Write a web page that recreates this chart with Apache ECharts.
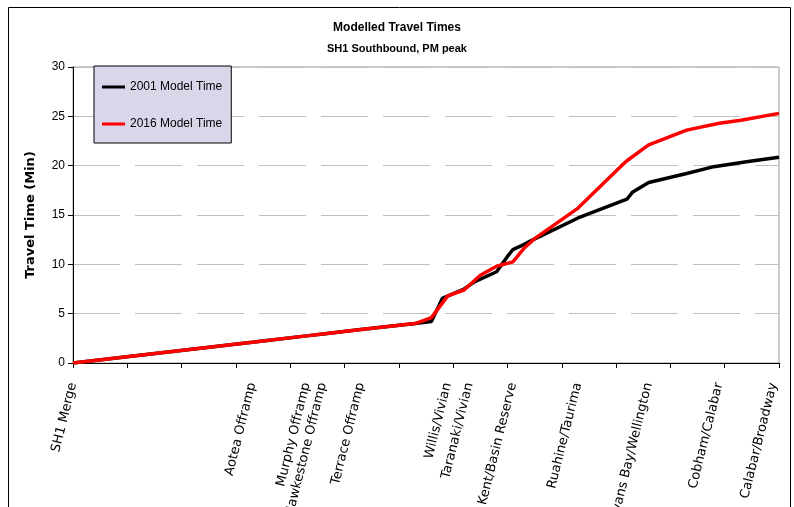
<!DOCTYPE html>
<html>
<head>
<meta charset="utf-8">
<script src="https://cdn.jsdelivr.net/npm/echarts@6/dist/echarts.min.js"></script>
<style>
html,body{margin:0;padding:0;background:#fff;}
#chart{width:794px;height:507px;}
</style>
</head>
<body>
<div id="chart"></div>
<script>
// Category positions along the route (0..130)
const categoryCount = 131;
const stationNames = ['SH1 Merge','Aotea Offramp','Murphy Offramp','Hawkestone Offramp','Terrace Offramp','Willis/Vivian','Taranaki/Vivian','Kent/Basin Reserve','Ruahine/Taurima','Evans Bay/Wellington','Cobham/Calabar','Calabar/Broadway'];
const stationIndex = [0,33,43,46,53,69,73,81,93,106,119,129];

// [category index, travel time (min)]
const model2001 = [[0,0],[33,2.1],[43,2.75],[46,2.95],[53,3.4],[63,4.0],[66,4.2],[68,6.55],[72,7.5],[74,8.25],[78,9.25],[80,10.8],[81,11.5],[83,12.0],[84,12.3],[93,14.7],[102,16.6],[103,17.3],[106,18.3],[113,19.2],[118,19.9],[124,20.4],[130,20.85]];
const model2016 = [[0,0],[33,2.1],[43,2.75],[46,2.95],[53,3.4],[63,4.0],[66,4.6],[69,6.8],[72,7.4],[75,8.9],[78,9.8],[81,10.25],[83,11.6],[85,12.6],[93,15.7],[101,20.0],[102,20.5],[106,22.1],[113,23.6],[119,24.3],[123,24.6],[130,25.3]];

const yTicks = [0,5,10,15,20,25,30];

const categories = new Array(categoryCount).fill('');
stationIndex.forEach((idx, k) => { categories[idx] = stationNames[k]; });

const chart = echarts.init(document.getElementById('chart'));
const font = 'Liberation Sans, Arial, sans-serif';
chart.setOption({
  animation: false,
  backgroundColor: '#ffffff',
  title: [
    {text: 'Modelled Travel Times', left: 'center', top: 17,
     textStyle: {fontFamily: font, fontSize: 12, fontWeight: 'bold', color: '#000'}},
    {text: 'SH1 Southbound, PM peak', left: 'center', top: 38,
     textStyle: {fontFamily: font, fontSize: 11, fontWeight: 'bold', color: '#000'}}
  ],
  graphic: [{
    type: 'rect', silent: true,
    shape: {x: 8.5, y: 7.5, width: 782, height: 530},
    style: {fill: 'none', stroke: '#000', lineWidth: 1}
  }],
  legend: {
    orient: 'vertical', left: 94, top: 66,
    backgroundColor: '#D9D6EA', borderColor: '#000', borderWidth: 1,
    padding: [15, 9, 13, 8], itemGap: 25, itemWidth: 23, itemHeight: 3,
    icon: 'rect',
    textStyle: {fontFamily: font, fontSize: 12, color: '#000', lineHeight: 12},
    data: ['2001 Model Time', '2016 Model Time']
  },
  grid: {left: 73, right: 15, top: 67, bottom: 144, show: true, borderColor: '#999', borderWidth: 1,
         backgroundColor: 'transparent', containLabel: false, outerBoundsMode: 'none'},
  xAxis: {
    type: 'category', data: categories, boundaryGap: false,
    axisLine: {lineStyle: {color: '#000', width: 1}},
    axisTick: {show: true, interval: 9, length: 5, lineStyle: {color: '#000'}},
    axisLabel: {
      interval: (i, v) => v !== '', rotate: 76, margin: 20,
      fontFamily: 'DejaVu Sans, sans-serif', fontSize: 13, color: '#000'
    },
    splitLine: {show: false}
  },
  yAxis: {
    type: 'value', min: yTicks[0], max: yTicks[yTicks.length-1], interval: 5,
    name: 'Travel Time (Min)', nameLocation: 'middle', nameGap: 36, nameRotate: 90,
    nameTextStyle: {fontFamily: 'DejaVu Sans, sans-serif', fontSize: 13, fontWeight: 'bold', color: '#000'},
    axisLine: {show: true, lineStyle: {color: '#000', width: 1}},
    axisTick: {show: true, length: 5, lineStyle: {color: '#000'}},
    axisLabel: {fontFamily: font, fontSize: 12, color: '#000', margin: 8},
    splitLine: {show: true, lineStyle: {color: '#C0C0C0', width: 1, type: [47, 15]}}
  },
  series: [
    {name: '2001 Model Time', type: 'line', data: model2001, symbol: 'none',
     lineStyle: {color: '#000', width: 3.5}, itemStyle: {color: '#000'}},
    {name: '2016 Model Time', type: 'line', data: model2016, symbol: 'none',
     lineStyle: {color: '#FF0000', width: 3.5}, itemStyle: {color: '#FF0000'}}
  ]
});
</script>
</body>
</html>
